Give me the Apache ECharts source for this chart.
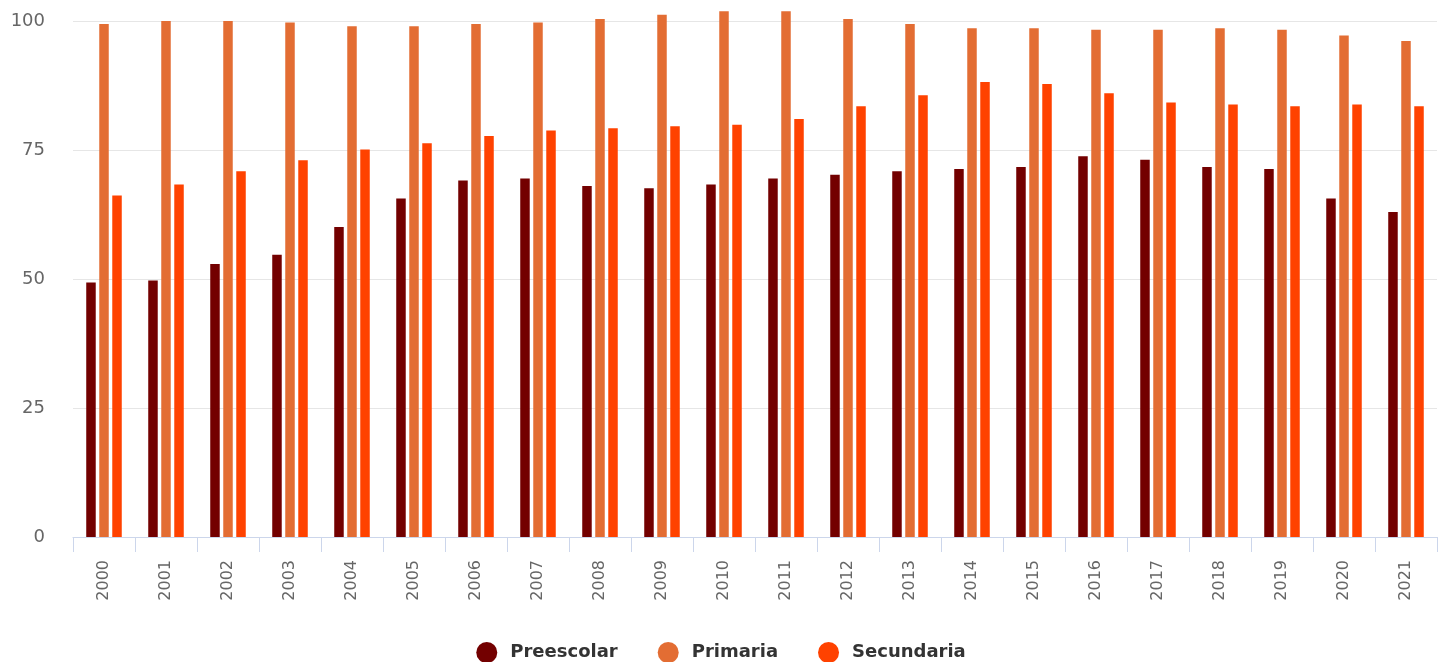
<!DOCTYPE html>
<html>
<head>
<meta charset="utf-8">
<script src="https://cdn.jsdelivr.net/npm/echarts@6/dist/echarts.min.js"></script>
<style>html,body{margin:0;padding:0;background:#fff}#c{width:1442px;height:662px}</style>
</head>
<body>
<div id="c"></div>
<script>
const categories = ['2000','2001','2002','2003','2004','2005','2006','2007','2008','2009','2010','2011','2012','2013','2014','2015','2016','2017','2018','2019','2020','2021'];
const preescolar = [49.3,49.7,52.9,54.7,60.1,65.6,69.1,69.5,68.0,67.6,68.3,69.5,70.2,70.9,71.3,71.7,73.8,73.1,71.7,71.3,65.6,63.0];
const primaria   = [99.4,100.0,100.0,99.7,99.0,99.0,99.4,99.7,100.4,101.2,101.9,101.9,100.4,99.4,98.6,98.6,98.3,98.3,98.6,98.3,97.2,96.1];
const secundaria = [66.2,68.3,70.9,73.0,75.1,76.3,77.7,78.8,79.2,79.6,79.9,81.0,83.5,85.6,88.2,87.8,86.0,84.2,83.8,83.5,83.8,83.5];
const yTicks = [0,25,50,75,100];

const chart = echarts.init(document.getElementById('c'));
const barBase = {type:'bar', barWidth:9.5, barGap:'37%', clip:false, emphasis:{disabled:true}};
chart.setOption({
  animation:false,
  grid:{left:73, right:5, top:21, bottom:125, containLabel:false},
  legend:{
    top:637, left:'center', icon:'circle', itemWidth:21, itemHeight:21, itemGap:40,
    textStyle:{fontFamily:'DejaVu Sans', fontSize:18, fontWeight:600, color:'#333', padding:[0,0,0,8]},
    data:['Preescolar','Primaria','Secundaria']
  },
  xAxis:{
    type:'category', data:categories,
    axisLine:{lineStyle:{color:'#ccd6eb', width:1}},
    axisTick:{show:true, length:15, lineStyle:{color:'#ccd6eb'}},
    axisLabel:{rotate:90, margin:23, fontFamily:'DejaVu Sans', fontSize:16, color:'#666'}
  },
  yAxis:{
    type:'value', min:yTicks[0], max:yTicks[yTicks.length-1], interval:25,
    axisLine:{show:false}, axisTick:{show:false},
    splitLine:{lineStyle:{color:'#e6e6e6'}},
    axisLabel:{margin:28, fontFamily:'DejaVu Sans', fontSize:18, color:'#666'}
  },
  series:[
    Object.assign({name:'Preescolar', data:preescolar, itemStyle:{color:'#730000'}}, barBase),
    Object.assign({name:'Primaria', data:primaria, itemStyle:{color:'#e36d33'}}, barBase),
    Object.assign({name:'Secundaria', data:secundaria, itemStyle:{color:'#ff4200'}}, barBase)
  ]
});
</script>
</body>
</html>
